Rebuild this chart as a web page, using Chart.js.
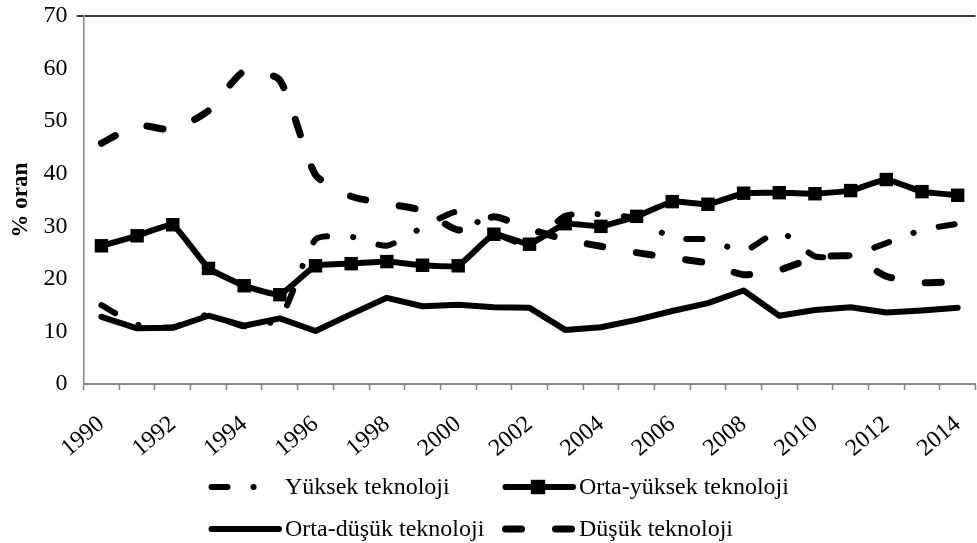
<!DOCTYPE html>
<html>
<head>
<meta charset="utf-8">
<title>Teknoloji yoğunluğuna göre oranlar</title>
<script src="https://cdn.jsdelivr.net/npm/chart.js@4.4.1/dist/chart.umd.min.js"></script>
<style>
    html, body { margin: 0; padding: 0; overflow: hidden; background: #fff; }
    /* grafik alani pencereden biraz genis, sag kenar kesik gorunuyor */
    #kutu { width: 985px; height: 543px; position: relative; }
</style>
</head>
<body>
<div id="kutu"><canvas id="grafik"></canvas></div>
<script>
// Yillar (kategori ekseni)
const yillar = ['1990', '1991', '1992', '1993', '1994', '1995', '1996', '1997', '1998', '1999',
                '2000', '2001', '2002', '2003', '2004', '2005', '2006', '2007', '2008', '2009',
                '2010', '2011', '2012', '2013', '2014'];

// Seri degerleri (% oran)
const yuksekTek = [15.0, 11.3, 10.8, 13.2, 11.0, 12.5, 27.5, 28.0, 26.3, 29.8,
                   32.8, 28.8, 26.5, 32.0, 32.3, 31.5, 27.8, 27.5, 25.3, 29.0,
                   24.3, 24.5, 26.8, 29.3, 30.5];
const ortaYuksekTek = [26.3, 28.2, 30.3, 22.0, 18.7, 17.0, 22.5, 22.9, 23.3, 22.6,
                       22.5, 28.5, 26.6, 30.5, 30.0, 31.9, 34.7, 34.2, 36.3, 36.4,
                       36.2, 36.8, 38.9, 36.6, 35.9];
const ortaDusukTek = [12.8, 10.6, 10.7, 13.0, 11.1, 12.5, 10.1, 13.3, 16.4, 14.8,
                      15.1, 14.6, 14.5, 10.3, 10.8, 12.2, 13.9, 15.4, 17.8, 13.0,
                      14.1, 14.6, 13.6, 14.0, 14.5];
const dusukTek = [45.8, 49.2, 48.4, 52.0, 59.5, 57.8, 39.8, 35.7, 34.3, 33.0,
                  29.3, 31.8, 29.5, 27.5, 26.2, 25.0, 24.0, 23.0, 20.8, 21.7,
                  24.0, 24.3, 20.5, 19.3, 19.5];

// Eksen
const yMin = 0;
const yMax = 70;
const yAdim = 10;

const yaziTipi = "'Liberation Serif', 'Times New Roman', serif";
const gri = '#868686';

Chart.defaults.font.family = yaziTipi;
Chart.defaults.font.size = 24;
Chart.defaults.color = '#000';

// Excel tarzi 2x2 lejant (cizgi ornegi + metin)
const lejantKonum = [
    { x: 208, y: 487 },
    { x: 502, y: 487 },
    { x: 208, y: 529 },
    { x: 502, y: 529 }
];

const izgaraLejant = {
    id: 'izgaraLejant',
    afterDraw(chart) {
        const ctx = chart.ctx;
        chart.data.datasets.forEach((ds, i) => {
            const p = lejantKonum[i];
            if (!p) return;
            ctx.save();
            ctx.strokeStyle = ds.borderColor;
            ctx.lineWidth = ds.borderWidth;
            ctx.lineCap = ds.borderCapStyle || 'butt';
            ctx.setLineDash(ds.borderDash || []);
            ctx.beginPath();
            ctx.moveTo(p.x + 3.5, p.y);
            ctx.lineTo(p.x + 71, p.y);
            ctx.stroke();
            ctx.setLineDash([]);
            if (ds.pointStyle === 'rect' && ds.pointRadius > 0) {
                const s = ds.pointRadius * Math.SQRT1_2 + 0.5;
                ctx.fillStyle = ds.pointBackgroundColor;
                ctx.fillRect(p.x + 36 - s, p.y - s, 2 * s, 2 * s);
            }
            ctx.fillStyle = '#000';
            ctx.font = '24px ' + yaziTipi;
            ctx.textBaseline = 'middle';
            ctx.textAlign = 'left';
            ctx.fillText(ds.label, p.x + 77, p.y + 1);
            ctx.restore();
        });
    }
};

// eksen etiketlerinin kenar payini sifirla, yerlesimi layout.padding belirlesin
function payiSifirla(scale) {
    scale.paddingTop = 0;
    scale.paddingBottom = 0;
    scale.paddingLeft = 0;
    scale.paddingRight = 0;
}

function seri(etiket, veri, ek) {
    return Object.assign({
        label: etiket,
        data: veri,
        borderColor: '#000',
        backgroundColor: '#000',
        borderWidth: 6,
        borderCapStyle: 'round',
        borderJoinStyle: 'round',
        pointRadius: 0,
        pointHoverRadius: 0,
        fill: false,
        tension: 0
    }, ek);
}

new Chart(document.getElementById('grafik'), {
    type: 'line',
    data: {
        labels: yillar,
        datasets: [
            seri('Yüksek teknoloji', yuksekTek, { borderDash: [16, 26, 0.1, 26], tension: 0.2, order: 3 }),
            seri('Orta-yüksek teknoloji', ortaYuksekTek, {
                pointStyle: 'rect', pointRadius: 9.5, pointBorderWidth: 0,
                pointBackgroundColor: '#000', pointBorderColor: '#000', tension: 0.1, order: 2
            }),
            seri('Orta-düşük teknoloji', ortaDusukTek, { order: 1 }),
            seri('Düşük teknoloji', dusukTek, { borderWidth: 7, borderDash: [16, 34], tension: 0.2, order: 0 })
        ]
    },
    options: {
        responsive: true,
        maintainAspectRatio: false,
        animation: false,
        layout: { padding: { left: 0, right: 0, top: 16, bottom: 60 } },
        plugins: {
            legend: { display: false },
            tooltip: { enabled: false }
        },
        scales: {
            x: {
                type: 'category',
                offset: true,
                afterFit: payiSifirla,
                grid: {
                    offset: true,
                    drawOnChartArea: false,
                    drawTicks: true,
                    tickLength: 6,
                    tickColor: gri,
                    tickWidth: 1.5
                },
                border: { display: true, color: gri, width: 2 },
                ticks: {
                    autoSkip: false,
                    minRotation: 40,
                    maxRotation: 40,
                    padding: 20,
                    callback: function(value, index) {
                        // sadece cift yillar yaziliyor
                        return index % 2 === 0 ? this.getLabelForValue(value) : '';
                    }
                }
            },
            y: {
                min: yMin,
                max: yMax,
                afterFit: payiSifirla,
                ticks: { stepSize: yAdim, padding: 9 },
                grid: {
                    drawOnChartArea: true,
                    tickLength: 7,
                    color: function(c) {
                        return c.tick && c.tick.value === yMax ? '#3c3c3c' : 'rgba(0,0,0,0)';
                    },
                    lineWidth: function(c) {
                        return c.tick && c.tick.value === yMax ? 2 : 0;
                    },
                    tickColor: function(c) {
                        if (!c.tick) return 'rgba(0,0,0,0)';
                        if (c.tick.value === yMax) return '#3c3c3c';
                        if (c.tick.value === yMin) return gri;
                        return 'rgba(0,0,0,0)';
                    }
                },
                border: { display: true, color: gri, width: 1.5 },
                title: {
                    display: true,
                    text: '% oran',
                    font: { weight: 'bold', size: 23 },
                    padding: { top: 7, bottom: 0 }
                }
            }
        }
    },
    plugins: [izgaraLejant]
});
</script>
</body>
</html>
